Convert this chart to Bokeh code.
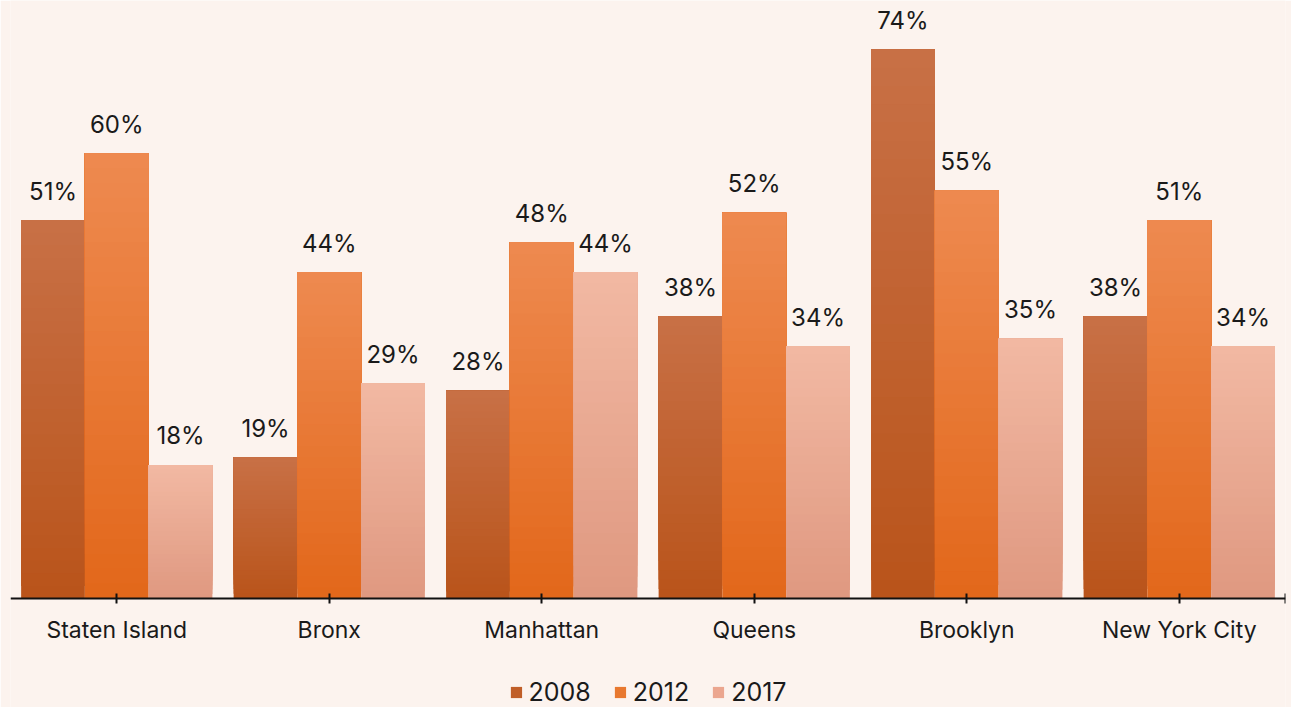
from bokeh.plotting import figure
from bokeh.models import ColumnDataSource, FixedTicker, Legend, LegendItem
from bokeh.core.properties import value
from bokeh.embed import file_html
from bokeh.resources import INLINE

boroughs = ["Staten Island", "Bronx", "Manhattan", "Queens", "Brooklyn", "New York City"]
years = ["2008", "2012", "2017"]
v2008 = [51, 19, 28, 38, 74, 38]
v2012 = [60, 44, 48, 52, 55, 51]
v2017 = [18, 29, 44, 34, 35, 34]
series = [v2008, v2012, v2017]

# gradient colours per series: (bottom, top)
grad = [("#b9541a", "#c87046"), ("#e2671a", "#ee8a50"), ("#df9880", "#f2b9a3")]
solid = ["#c05e28", "#e8782f", "#eba68f"]

BG = "#fcf3ee"
FONT = "Inter"
bar_w = 0.3
offsets = [-0.3, 0.0, 0.3]

p = figure(width=1291, height=707, x_range=(0, 6.0), y_range=(-14.69, 80.59),
           output_backend="svg", toolbar_location=None,
           background_fill_color=BG, border_fill_color=BG,
           min_border_left=10, min_border_right=6, min_border_top=0, min_border_bottom=0)
p.outline_line_color = None
p.grid.visible = False
p.yaxis.visible = False


def hex2rgb(h):
    h = h.lstrip("#")
    return tuple(int(h[i:i + 2], 16) for i in (0, 2, 4))


def mix(c1, c2, t):
    a, b = hex2rgb(c1), hex2rgb(c2)
    return "#%02x%02x%02x" % tuple(int(round(a[i] + (b[i] - a[i]) * t)) for i in range(3))


N = 30
for si, vals in enumerate(series):
    xs, bots, tops, cols = [], [], [], []
    for gi, v in enumerate(vals):
        x = gi + 0.5 + offsets[si]
        for k in range(N):
            xs.append(x)
            bots.append(v * k / N)
            tops.append(v)
            cols.append(mix(grad[si][0], grad[si][1], (k + 0.5) / N))
    src = ColumnDataSource(dict(x=xs, bottom=bots, top=tops, color=cols))
    p.vbar(x="x", bottom="bottom", top="top", width=bar_w, fill_color="color",
           line_color=None, source=src)

# value labels
lx, ly, lt = [], [], []
for si, vals in enumerate(series):
    for gi, v in enumerate(vals):
        lx.append(gi + 0.5 + offsets[si])
        ly.append(v)
        lt.append(f"{v}%")
lsrc = ColumnDataSource(dict(x=lx, y=ly, t=lt))
p.text(x="x", y="y", text="t", source=lsrc, text_align="center", text_baseline="alphabetic",
       y_offset=-29, text_font=value(FONT), text_font_size="24px", text_color="#1a1a1a")

# axis
ticks = [i + 0.5 for i in range(len(boroughs))] + [6.0]
p.xaxis.fixed_location = 0
p.xaxis.ticker = FixedTicker(ticks=ticks)
overrides = {i + 0.5: b for i, b in enumerate(boroughs)}
overrides[6.0] = ""
p.xaxis.major_label_overrides = overrides
p.xaxis.minor_tick_line_color = None
p.xaxis.axis_line_color = "#111111"
p.xaxis.axis_line_width = 2
p.xaxis.major_tick_line_color = "#111111"
p.xaxis.major_tick_line_width = 2
p.xaxis.major_tick_in = 5
p.xaxis.major_tick_out = 5
p.xaxis.major_label_standoff = 13
p.xaxis.major_label_text_font = FONT
p.xaxis.major_label_text_font_size = "23px"
p.xaxis.major_label_text_color = "#1a1a1a"

# legend
items = []
for si, y in enumerate(years):
    r = p.vbar(x=[0.5], bottom=[0], top=[0], width=bar_w, fill_color=solid[si], line_color=None)
    items.append(LegendItem(label=y, renderers=[r]))
legend = Legend(items=items, orientation="horizontal", location="bottom_center",
                glyph_width=14, glyph_height=14, label_text_font=FONT,
                label_text_font_size="25px", label_text_color="#1a1a1a",
                background_fill_alpha=0, border_line_color=None,
                spacing=22, label_standoff=6, padding=6, margin=0)
p.add_layout(legend)

open("out.html", "w").write(file_html(p, INLINE))
